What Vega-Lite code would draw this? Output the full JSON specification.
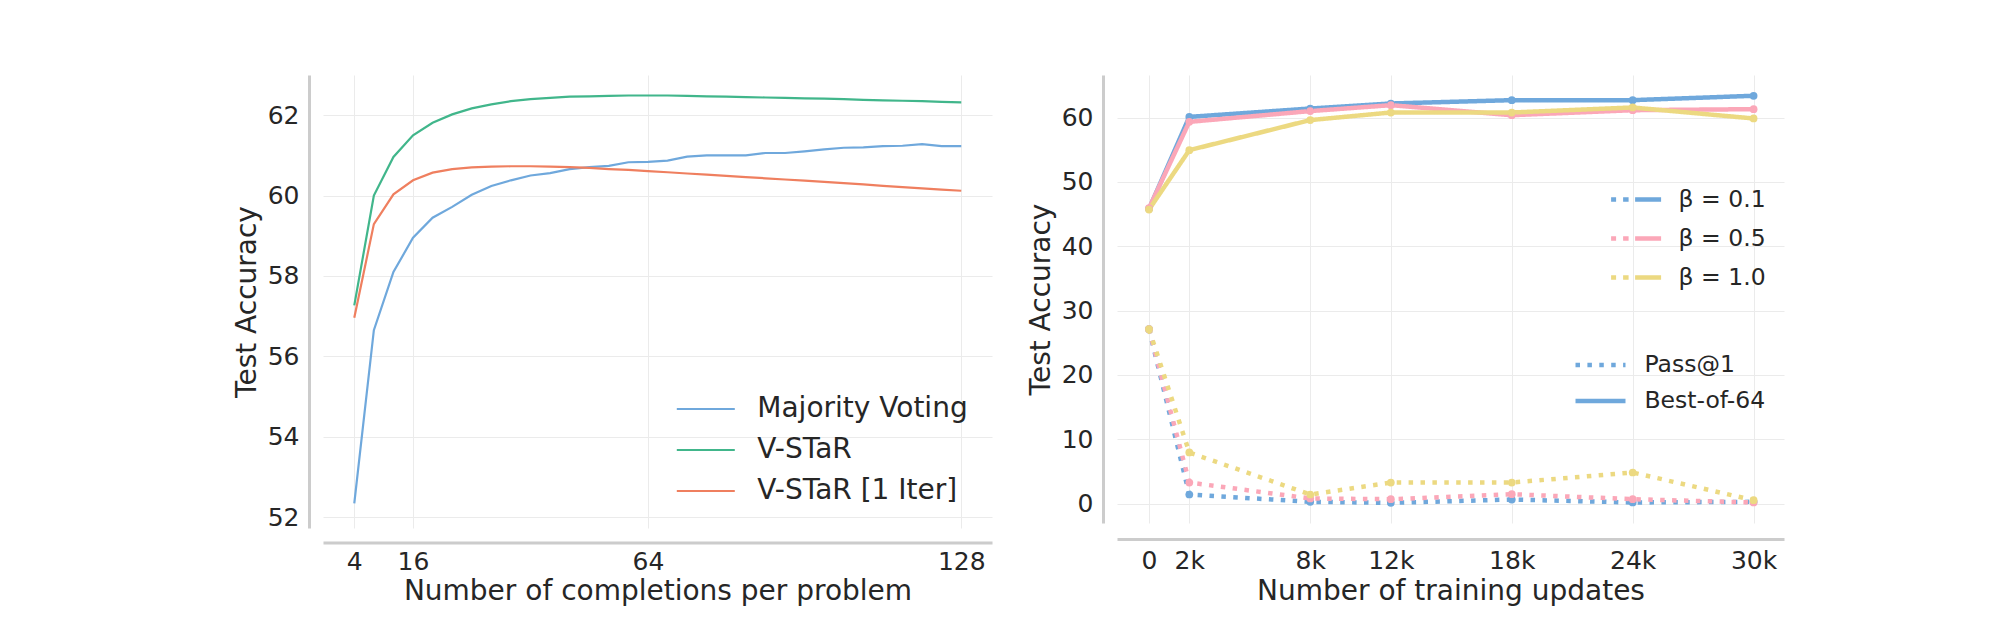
{
  "$schema": "https://vega.github.io/schema/vega-lite/v6.json",
  "background": "white",
  "padding": {"left": 233, "top": 75, "right": 5, "bottom": 5},
  "config": {
    "view": {"stroke": null},
    "font": "DejaVu Sans",
    "axis": {
      "labelFont": "DejaVu Sans", "titleFont": "DejaVu Sans",
      "labelColor": "#262626", "titleColor": "#262626", "titleFontWeight": "normal",
      "grid": true, "gridColor": "#ebebeb", "gridWidth": 1,
      "domainColor": "#cccccc", "domainWidth": 3,
      "ticks": false, "tickSize": 0,
      "labelFontSize": 25, "titleFontSize": 28,
      "labelFlush": false, "labelOverlap": false
    },
    "legend": {"labelFont": "DejaVu Sans", "labelColor": "#262626", "labelLimit": 400}
  },
  "datasets": {
    "left": [
      {"k":4,"method":"Majority Voting","acc":52.34},{"k":8,"method":"Majority Voting","acc":56.65},{"k":12,"method":"Majority Voting","acc":58.10},{"k":16,"method":"Majority Voting","acc":58.95},
      {"k":20,"method":"Majority Voting","acc":59.45},{"k":24,"method":"Majority Voting","acc":59.72},{"k":28,"method":"Majority Voting","acc":60.02},{"k":32,"method":"Majority Voting","acc":60.24},
      {"k":36,"method":"Majority Voting","acc":60.38},{"k":40,"method":"Majority Voting","acc":60.50},{"k":44,"method":"Majority Voting","acc":60.56},{"k":48,"method":"Majority Voting","acc":60.66},
      {"k":52,"method":"Majority Voting","acc":60.71},{"k":56,"method":"Majority Voting","acc":60.74},{"k":60,"method":"Majority Voting","acc":60.83},{"k":64,"method":"Majority Voting","acc":60.84},
      {"k":68,"method":"Majority Voting","acc":60.87},{"k":72,"method":"Majority Voting","acc":60.97},{"k":76,"method":"Majority Voting","acc":61.00},{"k":80,"method":"Majority Voting","acc":61.00},
      {"k":84,"method":"Majority Voting","acc":61.00},{"k":88,"method":"Majority Voting","acc":61.06},{"k":92,"method":"Majority Voting","acc":61.06},{"k":96,"method":"Majority Voting","acc":61.10},
      {"k":100,"method":"Majority Voting","acc":61.15},{"k":104,"method":"Majority Voting","acc":61.19},{"k":108,"method":"Majority Voting","acc":61.20},{"k":112,"method":"Majority Voting","acc":61.23},
      {"k":116,"method":"Majority Voting","acc":61.24},{"k":120,"method":"Majority Voting","acc":61.28},{"k":124,"method":"Majority Voting","acc":61.23},{"k":128,"method":"Majority Voting","acc":61.23},
      {"k":4,"method":"V-STaR","acc":57.27},{"k":8,"method":"V-STaR","acc":60.00},{"k":12,"method":"V-STaR","acc":60.96},{"k":16,"method":"V-STaR","acc":61.50},
      {"k":20,"method":"V-STaR","acc":61.81},{"k":24,"method":"V-STaR","acc":62.02},{"k":28,"method":"V-STaR","acc":62.17},{"k":32,"method":"V-STaR","acc":62.27},
      {"k":36,"method":"V-STaR","acc":62.35},{"k":40,"method":"V-STaR","acc":62.40},{"k":44,"method":"V-STaR","acc":62.43},{"k":48,"method":"V-STaR","acc":62.46},
      {"k":52,"method":"V-STaR","acc":62.47},{"k":56,"method":"V-STaR","acc":62.48},{"k":60,"method":"V-STaR","acc":62.49},{"k":64,"method":"V-STaR","acc":62.49},
      {"k":68,"method":"V-STaR","acc":62.49},{"k":72,"method":"V-STaR","acc":62.48},{"k":76,"method":"V-STaR","acc":62.47},{"k":80,"method":"V-STaR","acc":62.46},
      {"k":84,"method":"V-STaR","acc":62.45},{"k":88,"method":"V-STaR","acc":62.44},{"k":92,"method":"V-STaR","acc":62.43},{"k":96,"method":"V-STaR","acc":62.42},
      {"k":100,"method":"V-STaR","acc":62.41},{"k":104,"method":"V-STaR","acc":62.40},{"k":108,"method":"V-STaR","acc":62.38},{"k":112,"method":"V-STaR","acc":62.37},
      {"k":116,"method":"V-STaR","acc":62.36},{"k":120,"method":"V-STaR","acc":62.35},{"k":124,"method":"V-STaR","acc":62.33},{"k":128,"method":"V-STaR","acc":62.32},
      {"k":4,"method":"V-STaR [1 Iter]","acc":56.96},{"k":8,"method":"V-STaR [1 Iter]","acc":59.29},{"k":12,"method":"V-STaR [1 Iter]","acc":60.03},{"k":16,"method":"V-STaR [1 Iter]","acc":60.38},
      {"k":20,"method":"V-STaR [1 Iter]","acc":60.57},{"k":24,"method":"V-STaR [1 Iter]","acc":60.66},{"k":28,"method":"V-STaR [1 Iter]","acc":60.70},{"k":32,"method":"V-STaR [1 Iter]","acc":60.72},
      {"k":36,"method":"V-STaR [1 Iter]","acc":60.73},{"k":40,"method":"V-STaR [1 Iter]","acc":60.73},{"k":44,"method":"V-STaR [1 Iter]","acc":60.72},{"k":48,"method":"V-STaR [1 Iter]","acc":60.71},
      {"k":52,"method":"V-STaR [1 Iter]","acc":60.69},{"k":56,"method":"V-STaR [1 Iter]","acc":60.66},{"k":60,"method":"V-STaR [1 Iter]","acc":60.64},{"k":64,"method":"V-STaR [1 Iter]","acc":60.61},
      {"k":68,"method":"V-STaR [1 Iter]","acc":60.58},{"k":72,"method":"V-STaR [1 Iter]","acc":60.55},{"k":76,"method":"V-STaR [1 Iter]","acc":60.52},{"k":80,"method":"V-STaR [1 Iter]","acc":60.49},
      {"k":84,"method":"V-STaR [1 Iter]","acc":60.46},{"k":88,"method":"V-STaR [1 Iter]","acc":60.43},{"k":92,"method":"V-STaR [1 Iter]","acc":60.40},{"k":96,"method":"V-STaR [1 Iter]","acc":60.37},
      {"k":100,"method":"V-STaR [1 Iter]","acc":60.34},{"k":104,"method":"V-STaR [1 Iter]","acc":60.31},{"k":108,"method":"V-STaR [1 Iter]","acc":60.28},{"k":112,"method":"V-STaR [1 Iter]","acc":60.24},
      {"k":116,"method":"V-STaR [1 Iter]","acc":60.21},{"k":120,"method":"V-STaR [1 Iter]","acc":60.18},{"k":124,"method":"V-STaR [1 Iter]","acc":60.15},{"k":128,"method":"V-STaR [1 Iter]","acc":60.12}
    ],
    "right": [
      {"step":0,"beta":"β = 0.1","metric":"Best-of-64","acc":45.8},{"step":2000,"beta":"β = 0.1","metric":"Best-of-64","acc":60.1},{"step":8000,"beta":"β = 0.1","metric":"Best-of-64","acc":61.4},{"step":12000,"beta":"β = 0.1","metric":"Best-of-64","acc":62.18},{"step":18000,"beta":"β = 0.1","metric":"Best-of-64","acc":62.7},{"step":24000,"beta":"β = 0.1","metric":"Best-of-64","acc":62.7},{"step":30000,"beta":"β = 0.1","metric":"Best-of-64","acc":63.38},
      {"step":0,"beta":"β = 0.1","metric":"Pass@1","acc":27.1},{"step":2000,"beta":"β = 0.1","metric":"Pass@1","acc":1.4},{"step":8000,"beta":"β = 0.1","metric":"Pass@1","acc":0.26},{"step":12000,"beta":"β = 0.1","metric":"Pass@1","acc":0.1},{"step":18000,"beta":"β = 0.1","metric":"Pass@1","acc":0.62},{"step":24000,"beta":"β = 0.1","metric":"Pass@1","acc":0.16},{"step":30000,"beta":"β = 0.1","metric":"Pass@1","acc":0.26},
      {"step":0,"beta":"β = 0.5","metric":"Best-of-64","acc":45.9},{"step":2000,"beta":"β = 0.5","metric":"Best-of-64","acc":59.33},{"step":8000,"beta":"β = 0.5","metric":"Best-of-64","acc":61.0},{"step":12000,"beta":"β = 0.5","metric":"Best-of-64","acc":61.92},{"step":18000,"beta":"β = 0.5","metric":"Best-of-64","acc":60.36},{"step":24000,"beta":"β = 0.5","metric":"Best-of-64","acc":61.14},{"step":30000,"beta":"β = 0.5","metric":"Best-of-64","acc":61.3},
      {"step":0,"beta":"β = 0.5","metric":"Pass@1","acc":27.1},{"step":2000,"beta":"β = 0.5","metric":"Pass@1","acc":3.26},{"step":8000,"beta":"β = 0.5","metric":"Pass@1","acc":0.78},{"step":12000,"beta":"β = 0.5","metric":"Pass@1","acc":0.67},{"step":18000,"beta":"β = 0.5","metric":"Pass@1","acc":1.45},{"step":24000,"beta":"β = 0.5","metric":"Pass@1","acc":0.67},{"step":30000,"beta":"β = 0.5","metric":"Pass@1","acc":0.16},
      {"step":0,"beta":"β = 1.0","metric":"Best-of-64","acc":45.7},{"step":2000,"beta":"β = 1.0","metric":"Best-of-64","acc":54.93},{"step":8000,"beta":"β = 1.0","metric":"Best-of-64","acc":59.6},{"step":12000,"beta":"β = 1.0","metric":"Best-of-64","acc":60.78},{"step":18000,"beta":"β = 1.0","metric":"Best-of-64","acc":60.78},{"step":24000,"beta":"β = 1.0","metric":"Best-of-64","acc":61.56},{"step":30000,"beta":"β = 1.0","metric":"Best-of-64","acc":59.85},
      {"step":0,"beta":"β = 1.0","metric":"Pass@1","acc":27.1},{"step":2000,"beta":"β = 1.0","metric":"Pass@1","acc":7.93},{"step":8000,"beta":"β = 1.0","metric":"Pass@1","acc":1.4},{"step":12000,"beta":"β = 1.0","metric":"Pass@1","acc":3.26},{"step":18000,"beta":"β = 1.0","metric":"Pass@1","acc":3.26},{"step":24000,"beta":"β = 1.0","metric":"Pass@1","acc":4.82},{"step":30000,"beta":"β = 1.0","metric":"Pass@1","acc":0.52}
    ]
  },
  "bounds": "flush",
  "spacing": 125,
  "resolve": {"scale": {"color": "independent", "strokeDash": "independent"}, "legend": {"color": "independent", "strokeDash": "independent"}},
  "hconcat": [
    {
      "width": 669, "height": 453,
      "data": {"name": "left"},
      "mark": {"type": "line", "strokeWidth": 2.2},
      "encoding": {
        "x": {"field": "k", "type": "quantitative",
              "scale": {"domain": [-2.39, 134.28], "nice": false, "zero": false},
              "axis": {"values": [4, 16, 64, 128], "title": "Number of completions per problem", "offset": 14.5, "labelPadding": 6.8, "titlePadding": 3}},
        "y": {"field": "acc", "type": "quantitative",
              "scale": {"domain": [51.73, 63.0], "nice": false, "zero": false},
              "axis": {"values": [52, 54, 56, 58, 60, 62], "title": "Test Accuracy", "offset": 14, "labelPadding": 10, "titlePadding": 6}},
        "color": {"field": "method", "type": "nominal",
                  "sort": ["Majority Voting", "V-STaR", "V-STaR [1 Iter]"],
                  "scale": {"domain": ["Majority Voting", "V-STaR", "V-STaR [1 Iter]"], "range": ["#6fa8dc", "#41b68b", "#ef7f5f"]},
                  "legend": {"orient": "none", "legendX": 352.3, "legendY": 318, "direction": "vertical", "title": null,
                             "symbolType": "stroke", "symbolSize": 3364, "symbolStrokeWidth": 2.2,
                             "labelFontSize": 28, "labelOffset": 21, "clipHeight": 32, "rowPadding": 9, "padding": 0}}
      }
    },
    {
      "width": 667, "height": 448,
      "data": {"name": "right"},
      "encoding": {
        "x": {"field": "step", "type": "quantitative",
              "scale": {"domain": [-1588, 31509], "nice": false, "zero": false},
              "axis": {"values": [0, 2000, 8000, 12000, 18000, 24000, 30000],
                       "labelExpr": "datum.value == 0 ? '0' : (datum.value / 1000) + 'k'",
                       "title": "Number of training updates", "offset": 16, "labelPadding": 9.5, "titlePadding": 4.3}},
        "y": {"field": "acc", "type": "quantitative",
              "scale": {"domain": [-3.03, 66.61], "nice": false, "zero": false},
              "axis": {"values": [0, 10, 20, 30, 40, 50, 60], "title": "Test Accuracy", "offset": 14, "labelPadding": 10, "titlePadding": 6}}
      },
      "layer": [
        {
          "mark": {"type": "line", "strokeWidth": 4.5},
          "encoding": {
            "color": {"field": "beta", "type": "nominal",
                      "scale": {"domain": ["β = 0.1", "β = 0.5", "β = 1.0"], "range": ["#6fa8dc", "#fba7b8", "#ecd981"]},
                      "legend": {"orient": "none", "legendX": 491.6, "legendY": 109.5, "direction": "vertical", "title": null,
                                 "symbolType": "M-1,0L-0.8,0M-0.52,0L-0.3,0M-0.04,0L1,0", "symbolSize": 2500, "symbolStrokeWidth": 4.5,
                                 "labelFontSize": 23.5, "labelOffset": 15, "clipHeight": 30, "rowPadding": 9, "padding": 0}},
            "strokeDash": {"field": "metric", "type": "nominal",
                           "scale": {"domain": ["Pass@1", "Best-of-64"], "range": [[4.5, 7.4], [1, 0]]},
                           "legend": {"orient": "none", "legendX": 456, "legendY": 276, "direction": "vertical", "title": null,
                                      "symbolType": "stroke", "symbolSize": 2500, "symbolStrokeWidth": 4.5, "symbolStrokeColor": "#6fa8dc",
                                      "labelFontSize": 23.5, "labelOffset": 16.5, "clipHeight": 28, "rowPadding": 8, "padding": 0,
                                      "encode": {"symbols": {"update": {"stroke": {"value": "#6fa8dc"}}}}}}
          }
        },
        {
          "mark": {"type": "point", "filled": true, "size": 60, "opacity": 1},
          "encoding": {
            "color": {"field": "beta", "type": "nominal", "legend": null}
          }
        }
      ]
    }
  ]
}
